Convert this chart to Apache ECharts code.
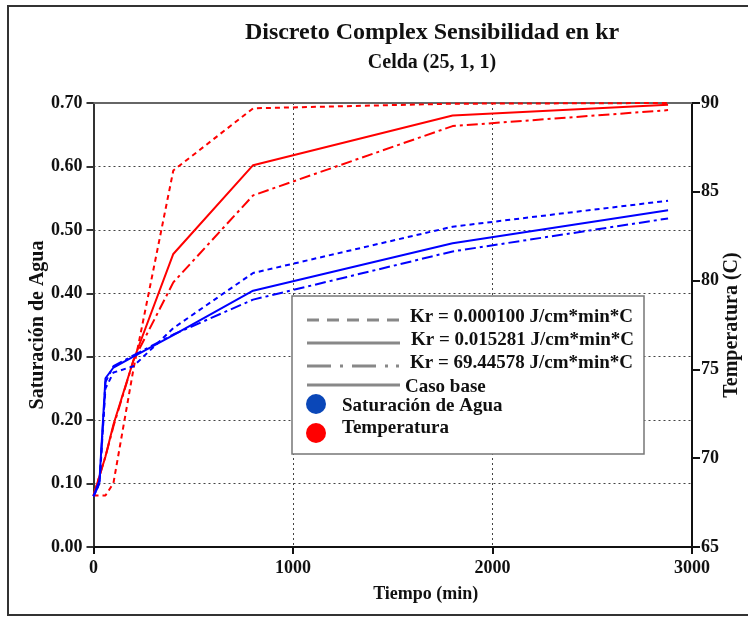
<!DOCTYPE html>
<html>
<head>
<meta charset="utf-8">
<script src="https://cdn.jsdelivr.net/npm/echarts@6/dist/echarts.min.js"></script>
<style>html,body{margin:0;padding:0;background:#fff;overflow:hidden;}#c{width:748px;height:617px;}</style>
</head>
<body>
<div id="c"></div>
<script>
// ---- data ----
var times = [0, 30, 60, 100, 200, 400, 800, 1800, 2880];            // Tiempo (min)
// Saturación de Agua (left axis)
var satKrLow  = [0.080, 0.100, 0.250, 0.275, 0.285, 0.345, 0.432, 0.505, 0.546]; // Kr = 0.000100
var satKrBase = [0.080, 0.105, 0.266, 0.283, 0.300, 0.334, 0.404, 0.479, 0.531]; // Kr = 0.015281
var satKrHigh = [0.080, 0.100, 0.260, 0.285, 0.302, 0.335, 0.390, 0.466, 0.518]; // Kr = 69.44578
// Temperatura (C) (right axis)
var tempKrLow  = [67.9, 67.9, 67.9, 68.6, 75.0, 86.2, 89.7, 89.96, 90.0];
var tempKrBase = [67.9, 69.0, 70.1, 71.9, 75.5, 81.5, 86.5, 89.3, 89.9];
var tempKrHigh = [67.9, 69.0, 70.1, 71.8, 75.5, 79.9, 84.8, 88.7, 89.6];
var xTicks = [0, 1000, 2000, 3000];
var leftTicks = [0.0, 0.1, 0.2, 0.3, 0.4, 0.5, 0.6, 0.7];
var rightTicks = [65, 70, 75, 80, 85, 90];
var legendLabels = ['Kr = 0.000100 J/cm*min*C', 'Kr = 0.015281 J/cm*min*C', 'Kr = 69.44578 J/cm*min*C', 'Caso base', 'Saturación de Agua', 'Temperatura'];

function pairs(xs, ys) { return xs.map(function (x, i) { return [x, ys[i]]; }); }

var FONT = 'Liberation Serif';
var RED = '#ff0000', BLUE = '#0000ff';
var DOT = [5, 4], DASHDOT = [11, 4, 3, 4];

function line(name, data, color, type, yIdx) {
  return {
    name: name, type: 'line', data: data, yAxisIndex: yIdx, symbol: 'none',
    lineStyle: { color: color, width: 2, type: type }, itemStyle: { color: color },
    animation: false, z: 5
  };
}

var chart = echarts.init(document.getElementById('c'), null, { renderer: 'canvas' });
var axisLbl = { fontFamily: FONT, fontWeight: 'bold', fontSize: 18, color: '#111' };
var LF = 'bold 19px "Liberation Serif"';

chart.setOption({
  backgroundColor: '#fff',
  animation: false,
  title: [
    { text: 'Discreto Complex Sensibilidad en kr', left: 427, top: 16, textAlign: 'center',
      textStyle: { fontFamily: FONT, fontWeight: 'bold', fontSize: 24, color: '#111' } },
    { text: 'Celda (25, 1, 1)', left: 427, top: 48, textAlign: 'center',
      textStyle: { fontFamily: FONT, fontWeight: 'bold', fontSize: 20, color: '#111' } }
  ],
  grid: { left: 93.5, right: 56, top: 103, bottom: 70, containLabel: false, outerBoundsMode: 'none' },
  xAxis: [
    { type: 'value', min: 0, max: 3000, interval: 1000, position: 'bottom',
      name: 'Tiempo (min)', nameLocation: 'middle', nameGap: 38, nameMoveOverlap: false,
      nameTextStyle: { fontFamily: FONT, fontWeight: 'bold', fontSize: 18, color: '#111', padding: [0, 0, 0, 66] },
      axisLine: { onZero: false, lineStyle: { color: '#111', width: 2 } },
      axisTick: { show: true, length: 7, lineStyle: { color: '#111', width: 2 } },
      axisLabel: Object.assign({ margin: 12, formatter: function (v) { return String(v); } }, axisLbl),
      splitLine: { show: true, lineStyle: { color: '#444', width: 1, type: [2, 3] } } },
    { type: 'value', min: 0, max: 3000, interval: 1000, position: 'top',
      axisLine: { show: true, onZero: false, lineStyle: { color: '#666', width: 2 } },
      axisTick: { show: false }, axisLabel: { show: false }, splitLine: { show: false } }
  ],
  yAxis: [
    { type: 'value', min: 0, max: 0.7, interval: 0.1, position: 'left',
      name: 'Saturación de Agua', nameLocation: 'middle', nameGap: 46, nameRotate: 90, nameMoveOverlap: false,
      nameTextStyle: { fontFamily: FONT, fontWeight: 'bold', fontSize: 20, color: '#111' },
      axisLine: { show: true, onZero: false, lineStyle: { color: '#333', width: 2 } },
      axisTick: { show: true, length: 7, lineStyle: { color: '#333', width: 2 } },
      axisLabel: Object.assign({ margin: 11, formatter: function (v) { return v.toFixed(2); } }, axisLbl),
      splitLine: { show: true, lineStyle: { color: '#444', width: 1, type: [2, 3] } } },
    { type: 'value', min: 65, max: 90, interval: 5, position: 'right',
      name: 'Temperatura (C)', nameLocation: 'middle', nameGap: 30, nameRotate: 90, nameMoveOverlap: false,
      nameTextStyle: { fontFamily: FONT, fontWeight: 'bold', fontSize: 20, color: '#111' },
      axisLine: { show: true, onZero: false, lineStyle: { color: '#111', width: 2 } },
      axisTick: { show: true, length: 8, lineStyle: { color: '#111', width: 2 } },
      axisLabel: Object.assign({ margin: 9 }, axisLbl),
      splitLine: { show: false } }
  ],
  series: [
    line('Temperatura Kr=0.000100', pairs(times, tempKrLow), RED, DOT, 1),
    line('Temperatura Kr=0.015281', pairs(times, tempKrBase), RED, 'solid', 1),
    line('Temperatura Kr=69.44578', pairs(times, tempKrHigh), RED, DASHDOT, 1),
    line('Saturación Kr=0.000100', pairs(times, satKrLow), BLUE, DOT, 0),
    line('Saturación Kr=0.015281', pairs(times, satKrBase), BLUE, 'solid', 0),
    line('Saturación Kr=69.44578', pairs(times, satKrHigh), BLUE, DASHDOT, 0)
  ],
  graphic: [
    { type: 'rect', shape: { x: 8, y: 6, width: 800, height: 609 }, silent: true,
      style: { fill: 'none', stroke: '#333', lineWidth: 2 }, z: 0 },
    { type: 'rect', shape: { x: 292, y: 296, width: 352, height: 158 }, z: 10,
      style: { fill: '#fff', stroke: '#777', lineWidth: 1.5 } },
    { type: 'line', shape: { x1: 307, y1: 320, x2: 402, y2: 320 }, z: 11,
      style: { stroke: '#888', lineWidth: 3, lineDash: [12, 8] } },
    { type: 'line', shape: { x1: 307, y1: 343, x2: 400, y2: 343 }, z: 11,
      style: { stroke: '#888', lineWidth: 3 } },
    { type: 'line', shape: { x1: 307, y1: 366, x2: 400, y2: 366 }, z: 11,
      style: { stroke: '#888', lineWidth: 3, lineDash: [24, 9, 3, 9, 24, 9, 3, 8, 3, 8] } },
    { type: 'line', shape: { x1: 307, y1: 385, x2: 400, y2: 385 }, z: 11,
      style: { stroke: '#888', lineWidth: 3 } },
    { type: 'circle', shape: { cx: 316, cy: 404, r: 10 }, z: 11, style: { fill: '#0a47b8' } },
    { type: 'circle', shape: { cx: 316, cy: 433, r: 10 }, z: 11, style: { fill: '#ff0000' } },
    { type: 'text', left: 410, top: 308, z: 11, style: { text: legendLabels[0], font: LF, fill: '#111' } },
    { type: 'text', left: 411, top: 331, z: 11, style: { text: legendLabels[1], font: LF, fill: '#111' } },
    { type: 'text', left: 410, top: 354, z: 11, style: { text: legendLabels[2], font: LF, fill: '#111' } },
    { type: 'text', left: 405, top: 378, z: 11, style: { text: legendLabels[3], font: LF, fill: '#111' } },
    { type: 'text', left: 342, top: 397, z: 11, style: { text: legendLabels[4], font: LF, fill: '#111' } },
    { type: 'text', left: 342, top: 419, z: 11, style: { text: legendLabels[5], font: LF, fill: '#111' } }
  ]
});
</script>
</body>
</html>
